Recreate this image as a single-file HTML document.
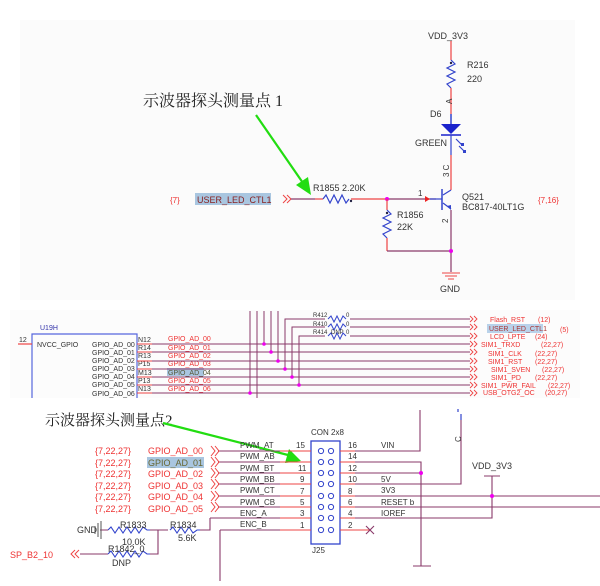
<!DOCTYPE html>
<html><head><meta charset="utf-8"><style>
body{margin:0;background:#fff}
svg text{font-family:"Liberation Sans",sans-serif}
.cn{font-family:"Liberation Serif","Noto Serif CJK SC",serif;fill:#222}
.r{fill:#ee3333}.k{fill:#333}.b{fill:#3333aa}
</style></head><body>
<svg width="600" height="581" viewBox="0 0 600 581" xmlns="http://www.w3.org/2000/svg">
<rect x="0" y="0" width="600" height="581" fill="#fff"/>
<rect x="20" y="20" width="555" height="280" fill="#fbfbfb"/>
<rect x="10" y="310" width="570" height="88" fill="#fcfcfc"/>

<!-- TOP PANEL -->
<text x="428" y="39" font-size="9" class="k">VDD_3V3</text>
<line x1="451" y1="41" x2="451" y2="60" stroke="#e44" stroke-width="1.2"/>
<polyline points="451,60 455,64 447,68 455,72 447,76 455,80 447,84 451,88" fill="none" stroke="#3344cc" stroke-width="1.2"/>
<circle cx="451" cy="63" r="1.2" fill="#224"/>
<text x="467" y="68" font-size="9" class="k">R216</text>
<text x="467" y="82" font-size="9" class="k">220</text>
<line x1="451" y1="88" x2="451" y2="114" stroke="#e44" stroke-width="1.2"/>
<text x="446" y="104" font-size="8" class="k" transform="rotate(-90 449 101)">A</text>
<text x="430" y="117" font-size="9" class="k">D6</text>
<line x1="451" y1="114" x2="451" y2="124" stroke="#3344cc" stroke-width="1.5"/>
<polygon points="441,124 461,124 451,134" fill="#1a22cc"/>
<line x1="441" y1="135" x2="461" y2="135" stroke="#1a22cc" stroke-width="1.5"/>
<line x1="451" y1="135" x2="451" y2="155" stroke="#3344cc" stroke-width="1.2"/>
<text x="415" y="146" font-size="9" class="k">GREEN</text>
<path d="M456,139 l6,6 M459,146 l5,5" stroke="#3344cc" stroke-width="1.2"/>
<rect x="461" y="143" width="3" height="3" fill="#3344cc"/><rect x="463" y="150" width="3" height="3" fill="#3344cc"/>
<line x1="451" y1="155" x2="451" y2="190" stroke="#e44" stroke-width="1.2"/>
<text x="442" y="178" font-size="8" class="k" transform="rotate(-90 445 174)">3 C</text>
<line x1="451" y1="190" x2="443" y2="195" stroke="#3344cc" stroke-width="1.2"/>
<line x1="442" y1="189" x2="442" y2="210" stroke="#3344cc" stroke-width="1.5"/>
<line x1="443" y1="203" x2="451" y2="209" stroke="#3344cc" stroke-width="1.2"/>
<polygon points="451,210 447,206 451,205" fill="#3344cc"/>
<line x1="451" y1="210" x2="451" y2="272" stroke="#8a3a6a" stroke-width="1.2"/>
<text x="442" y="223" font-size="8" class="k" transform="rotate(-90 445 220)">2</text>
<text x="462" y="200" font-size="9" class="k">Q521</text>
<text x="462" y="210" font-size="9" class="k">BC817-40LT1G</text>
<text x="538" y="203" font-size="8" class="r">{7,16}</text>
<text x="170" y="203" font-size="8" class="r">{7}</text>
<rect x="195" y="193" width="76" height="12" fill="#a9c6e0"/>
<text x="197" y="203" font-size="9" fill="#882222">USER_LED_CTL1</text>
<path d="M283,195 l4,4 l-4,4 M287,195 l4,4 l-4,4" fill="none" stroke="#e44" stroke-width="1"/>
<line x1="291" y1="199" x2="315" y2="199" stroke="#8a3a6a" stroke-width="1.2"/>
<line x1="315" y1="199" x2="323" y2="199" stroke="#e44" stroke-width="1.2"/>
<polyline points="323,199 326,195 330,203 334,195 338,203 342,195 346,203 349,199" fill="none" stroke="#3344cc" stroke-width="1.2"/>
<circle cx="351" cy="201" r="1.2" fill="#224"/>
<line x1="351" y1="199" x2="387" y2="199" stroke="#e44" stroke-width="1.2"/>
<line x1="387" y1="199" x2="436" y2="199" stroke="#8a3a6a" stroke-width="1.2"/>
<polygon points="425,196 430,199 425,202" fill="#e22"/>
<line x1="430" y1="199" x2="442" y2="199" stroke="#3344cc" stroke-width="1.2"/>
<text x="418" y="196" font-size="8" class="k">1</text>
<text x="313" y="191" font-size="9" class="k">R1855  2.20K</text>
<circle cx="387" cy="199" r="2" fill="#e0e"/>
<line x1="387" y1="199" x2="387" y2="210" stroke="#e44" stroke-width="1.2"/>
<polyline points="387,210 391,214 383,218 391,222 383,226 391,230 383,234 387,238" fill="none" stroke="#3344cc" stroke-width="1.2"/>
<circle cx="387" cy="213" r="1.2" fill="#224"/>
<line x1="387" y1="238" x2="387" y2="251" stroke="#e44" stroke-width="1.2"/>
<line x1="387" y1="251" x2="451" y2="251" stroke="#8a3a6a" stroke-width="1.2"/>
<circle cx="451" cy="251" r="2" fill="#e0e"/>
<text x="397" y="218" font-size="9" class="k">R1856</text>
<text x="397" y="230" font-size="9" class="k">22K</text>
<path d="M442,273 h18 M445,276 h12 M448,279 h6" stroke="#e44" stroke-width="1"/>
<text x="440" y="292" font-size="9" class="k">GND</text>
<text x="143" y="106" font-size="16" class="cn">示波器探头测量点 1</text>
<line x1="256" y1="115" x2="303" y2="183" stroke="#22dd11" stroke-width="2.2"/>
<polygon points="311,195 296,185 308,177" fill="#22dd11"/>

<!-- MIDDLE PANEL -->
<text x="40" y="330" font-size="7" class="b">U19H</text>
<path d="M32,398 V334 H137 V398" fill="none" stroke="#5566dd" stroke-width="1.2"/>
<line x1="18" y1="344" x2="32" y2="344" stroke="#e44" stroke-width="1.2"/>
<text x="19" y="342" font-size="7" class="k">12</text>
<text x="37" y="347" font-size="7" class="k">NVCC_GPIO</text>
<g font-size="7" class="k">
<text x="92" y="347">GPIO_AD_00</text><text x="92" y="355">GPIO_AD_01</text><text x="92" y="363">GPIO_AD_02</text>
<text x="92" y="371">GPIO_AD_03</text><text x="92" y="379">GPIO_AD_04</text><text x="92" y="387">GPIO_AD_05</text><text x="92" y="396">GPIO_AD_06</text>
<text x="138" y="342">N12</text><text x="138" y="350">R14</text><text x="138" y="358">R13</text><text x="138" y="366">P15</text>
<text x="138" y="375">M13</text><text x="138" y="383">P13</text><text x="138" y="391">N13</text>
</g>
<rect x="167" y="368" width="37" height="8" fill="#a9c6e0"/>
<g font-size="7" class="r">
<text x="168" y="341">GPIO_AD_00</text><text x="168" y="350">GPIO_AD_01</text><text x="168" y="358">GPIO_AD_02</text>
<text x="168" y="366">GPIO_AD_03</text><text x="168" y="375" fill="#553">GPIO_AD_04</text><text x="168" y="383">GPIO_AD_05</text><text x="168" y="391">GPIO_AD_06</text>
</g>
<g stroke="#8a3a6a" stroke-width="1">
<line x1="137" y1="344" x2="470" y2="344"/><line x1="137" y1="352" x2="470" y2="352"/>
<line x1="137" y1="361" x2="470" y2="361"/><line x1="137" y1="369" x2="470" y2="369"/>
<line x1="137" y1="377" x2="470" y2="377"/><line x1="137" y1="385" x2="470" y2="385"/>
<line x1="137" y1="393" x2="470" y2="393"/>
<line x1="250" y1="311" x2="250" y2="393"/><line x1="257" y1="311" x2="257" y2="398"/>
<line x1="264" y1="311" x2="264" y2="344"/><line x1="271" y1="311" x2="271" y2="352"/>
<line x1="278" y1="311" x2="278" y2="361"/>
<path d="M285,369 V319 H325 M292,377 V327 H325 M299,385 V336 H325" fill="none"/>
<path d="M350,319 H470 M350,327 H470 M350,336 H470"/>
</g>
<g stroke="#e44" stroke-width="1"><path d="M137,344 h15 M137,352 h15 M137,361 h15 M137,369 h15 M137,377 h15 M137,385 h15 M137,393 h15"/></g>
<g fill="#e0e"><circle cx="264" cy="344" r="1.8"/><circle cx="271" cy="352" r="1.8"/><circle cx="278" cy="361" r="1.8"/><circle cx="285" cy="369" r="1.8"/><circle cx="292" cy="377" r="1.8"/><circle cx="299" cy="385" r="1.8"/><circle cx="250" cy="393" r="1.8"/></g>
<g fill="none" stroke="#3344cc" stroke-width="1">
<polyline points="328,319 331,316 334,322 337,316 340,322 343,316 346,319"/>
<polyline points="328,327 331,324 334,330 337,324 340,330 343,324 346,327"/>
<polyline points="328,336 331,333 334,339 337,333 340,339 343,333 346,336"/>
</g>
<g font-size="6" class="k"><text x="313" y="317">R412</text><text x="313" y="326">R410</text><text x="313" y="334">R414</text><text x="346" y="317">0</text><text x="346" y="326">0</text><text x="331" y="334">DNP</text><text x="346" y="334">0</text></g>
<g fill="none" stroke="#e44" stroke-width="0.9">
<path d="M470,316 l3,3 l-3,3 M474,316 l3,3 l-3,3 M470,324 l3,3 l-3,3 M474,324 l3,3 l-3,3 M470,333 l3,3 l-3,3 M474,333 l3,3 l-3,3 M470,341 l3,3 l-3,3 M474,341 l3,3 l-3,3 M470,349 l3,3 l-3,3 M474,349 l3,3 l-3,3 M470,358 l3,3 l-3,3 M474,358 l3,3 l-3,3 M470,366 l3,3 l-3,3 M474,366 l3,3 l-3,3 M470,374 l3,3 l-3,3 M474,374 l3,3 l-3,3 M470,382 l3,3 l-3,3 M474,382 l3,3 l-3,3 M470,390 l3,3 l-3,3 M474,390 l3,3 l-3,3"/>
</g>
<rect x="487" y="324" width="56" height="9" fill="#b9d2ea"/>
<g font-size="7" class="r">
<text x="490" y="322">Flash_RST</text><text x="538" y="322">(12)</text>
<text x="489" y="331" fill="#a33">USER_LED_CTL1</text><text x="560" y="332">(5)</text>
<text x="490" y="339">LCD_LPTE</text><text x="535" y="339">(24)</text>
<text x="481" y="347">SIM1_TRXD</text><text x="541" y="347">(22,27)</text>
<text x="488" y="356">SIM1_CLK</text><text x="535" y="356">(22,27)</text>
<text x="488" y="364">SIM1_RST</text><text x="535" y="364">(22,27)</text>
<text x="491" y="372">SIM1_SVEN</text><text x="542" y="372">(22,27)</text>
<text x="491" y="380">SIM1_PD</text><text x="535" y="380">(22,27)</text>
<text x="481" y="388">SIM1_PWR_FAIL</text><text x="548" y="388">(22,27)</text>
<text x="483" y="395">USB_OTG2_OC</text><text x="545" y="395">(20,27)</text>
</g>

<!-- BOTTOM PANEL -->
<text x="45" y="425" font-size="15" class="cn">示波器探头测量点2</text>
<line x1="163" y1="423" x2="288" y2="455" stroke="#22dd11" stroke-width="2.2"/>
<polygon points="301,461 285,463 289,449" fill="#22dd11"/>
<text x="311" y="435" font-size="8" class="k">CON 2x8</text>
<rect x="311" y="441" width="29" height="103" fill="none" stroke="#3344cc" stroke-width="1.3"/>
<g fill="none" stroke="#3344cc" stroke-width="1">
<circle cx="321" cy="451" r="2.6"/><circle cx="331" cy="451" r="2.6"/>
<circle cx="321" cy="462" r="2.6"/><circle cx="331" cy="462" r="2.6"/>
<circle cx="321" cy="473" r="2.6"/><circle cx="331" cy="473" r="2.6"/>
<circle cx="321" cy="484" r="2.6"/><circle cx="331" cy="484" r="2.6"/>
<circle cx="321" cy="496" r="2.6"/><circle cx="331" cy="496" r="2.6"/>
<circle cx="321" cy="507" r="2.6"/><circle cx="331" cy="507" r="2.6"/>
<circle cx="321" cy="518" r="2.6"/><circle cx="331" cy="518" r="2.6"/>
<circle cx="321" cy="530" r="2.6"/><circle cx="331" cy="530" r="2.6"/>
</g>
<text x="312" y="553" font-size="8" class="k">J25</text>
<g stroke="#8a3a6a" stroke-width="1.1" fill="none">
<path d="M218,451 H280 M218,462 H280 M218,473 H280 M218,484 H280 M218,496 H280 M218,507 H280 M210,518 H280 M220,530 H280"/>
<path d="M210,518 V530 H203 M220,530 V581"/>
<path d="M355,451 H420 V410 M355,462 H421 V566 M413,566 H431 M355,484 H461 V420 M355,496 H600 M355,507 H600 M355,518 H492 V476 M484,476 H500"/>
<path d="M355,473 H421"/>
<path d="M100,530 H108 M150,530 H168 M158,530 V554 H150 M80,554 H108 M200,530 H210"/>
</g>
<g stroke="#e44" stroke-width="1.1"><path d="M280,451 H311 M280,462 H311 M280,473 H311 M280,484 H311 M280,496 H311 M280,507 H311 M280,518 H311 M280,530 H311 M340,451 H355 M340,462 H355 M340,473 H355 M340,484 H355 M340,496 H355 M340,507 H355 M340,518 H355 M340,530 H370"/></g>
<path d="M366,526 l8,8 M374,526 l-8,8" stroke="#8a3a6a" stroke-width="1.1"/>
<circle cx="421" cy="473" r="2" fill="#e0e"/><circle cx="492" cy="496" r="2" fill="#e0e"/>
<path d="M461,420 v-6 M458,412 v-3" stroke="#3344cc" stroke-width="1.2"/>
<text x="458" y="445" font-size="8" class="k" transform="rotate(-90 458 442)">C</text>
<text x="472" y="469" font-size="9" class="k">VDD_3V3</text>
<g font-size="8" class="k">
<text x="296" y="448">15</text><text x="298" y="471">11</text><text x="300" y="482">9</text><text x="300" y="494">7</text><text x="300" y="505">5</text><text x="300" y="516">3</text><text x="300" y="528">1</text>
<text x="348" y="448">16</text><text x="348" y="459">14</text><text x="348" y="471">12</text><text x="348" y="482">10</text><text x="348" y="494">8</text><text x="348" y="505">6</text><text x="348" y="516">4</text><text x="348" y="528">2</text>
</g>
<g font-size="8" fill="#333" style="font-family:'Liberation Mono',monospace">
<text x="240" y="448">PWM_AT</text><text x="240" y="459">PWM_AB</text><text x="240" y="471">PWM_BT</text><text x="240" y="482">PWM_BB</text>
<text x="240" y="493">PWM_CT</text><text x="240" y="505">PWM_CB</text><text x="240" y="516">ENC_A</text><text x="240" y="527">ENC_B</text>
<text x="381" y="448">VIN</text><text x="381" y="482">5V</text><text x="381" y="493">3V3</text><text x="381" y="505">RESET b</text><text x="381" y="516">IOREF</text>
</g>
<rect x="147" y="457" width="57" height="11" fill="#a9c6e0"/>
<g font-size="9" class="r">
<text x="95" y="454">{7,22,27}</text><text x="148" y="454">GPIO_AD_00</text>
<text x="95" y="466">{7,22,27}</text><text x="148" y="466" fill="#663">GPIO_AD_01</text>
<text x="95" y="477">{7,22,27}</text><text x="148" y="477">GPIO_AD_02</text>
<text x="95" y="489">{7,22,27}</text><text x="148" y="489">GPIO_AD_03</text>
<text x="95" y="500">{7,22,27}</text><text x="148" y="500">GPIO_AD_04</text>
<text x="95" y="512">{7,22,27}</text><text x="148" y="512">GPIO_AD_05</text>
<text x="10" y="558">SP_B2_10</text>
</g>
<g fill="none" stroke="#e44" stroke-width="1">
<path d="M211,446 l4,5 l-4,5 M215,446 l4,5 l-4,5 M211,457 l4,5 l-4,5 M215,457 l4,5 l-4,5 M211,468 l4,5 l-4,5 M215,468 l4,5 l-4,5 M211,479 l4,5 l-4,5 M215,479 l4,5 l-4,5 M211,491 l4,5 l-4,5 M215,491 l4,5 l-4,5 M211,502 l4,5 l-4,5 M215,502 l4,5 l-4,5"/>
<path d="M75,550 l-4,4 l4,4 M79,550 l-4,4 l4,4"/>
</g>
<text x="77" y="533" font-size="9" class="k">GND</text>
<path d="M98,523 v14 M95,526 v8 M101,521 v18" stroke="#555" stroke-width="1"/>
<g fill="none" stroke="#3344cc" stroke-width="1.1">
<polyline points="108,530 111,527 115,533 119,527 123,533 127,527 131,533 135,527 139,533 143,527 147,530 150,530"/>
<polyline points="170,530 173,527 177,533 181,527 185,533 189,527 193,533 197,530 200,530"/>
<polyline points="108,554 111,551 115,557 119,551 123,557 127,551 131,557 135,551 139,557 143,551 147,554 150,554"/>
</g>
<g font-size="9" class="k"><text x="120" y="528">R1833</text><text x="122" y="545">10.0K</text><text x="170" y="528">R1834</text><text x="178" y="541">5.6K</text><text x="108" y="552">R1842_0</text><text x="112" y="566">DNP</text></g>
</svg>
</body></html>
